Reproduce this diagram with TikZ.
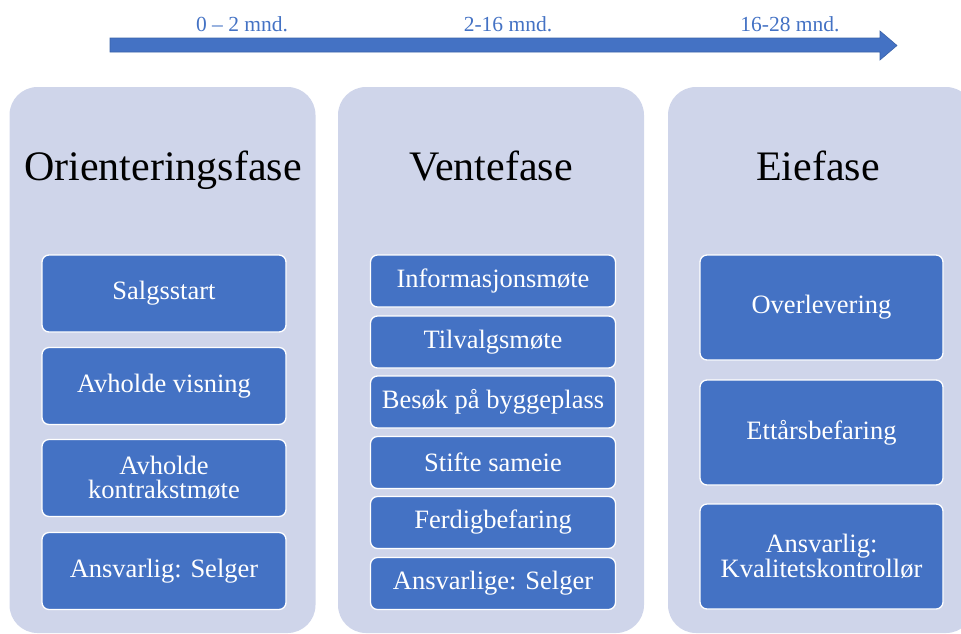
\documentclass[tikz,border=0pt]{standalone}
\usepackage{fontspec}
\setmainfont{Liberation Serif}
\definecolor{phasefill}{HTML}{CFD5EA}
\definecolor{stepblue}{HTML}{4472C4}
\definecolor{arrowedge}{HTML}{3A62A8}
\begin{document}
\begin{tikzpicture}[x=1pt,y=-1pt,
  phasebox/.style={fill=phasefill, rounded corners=28pt, inner sep=0pt,
    minimum width=306pt, minimum height=546pt},
  stepbox/.style={draw=white, line width=1.3pt, fill=stepblue, rounded corners=7pt,
    text=white, font=\fontsize{26.5}{24.5}\selectfont, align=center, inner sep=0pt},
  col1/.style={stepbox, minimum width=244pt, minimum height=77pt},
  col2/.style={stepbox, minimum width=245pt, minimum height=52pt},
  col3/.style={stepbox, minimum width=243pt, minimum height=105pt},
  phasetitle/.style={font=\fontsize{42}{48}\selectfont, anchor=base},
  period/.style={text=stepblue, font=\fontsize{21.5}{24}\selectfont, anchor=base}]
\useasboundingbox (0,0) rectangle (961,633);
\clip (0,0) rectangle (961,633);

% time line
\draw[arrowedge, line width=0.6pt, fill=stepblue]
  (110,38) -- (880,38) -- (880,31) -- (897,45.5) -- (880,60) -- (880,52) -- (110,52) -- cycle;
\node[period] (t1) at (242,31) {0 – 2 mnd.};
\node[period] (t2) at (508,31) {2-16 mnd.};
\node[period] (t3) at (790,31) {16-28 mnd.};

% phase columns
\node[phasebox] (p1) at (162.5,360) {};
\node[phasebox] (p2) at (491,360) {};
\node[phasebox] (p3) at (821,360) {};

\node[phasetitle] (h1) at (163,180) {Orienteringsfase};
\node[phasetitle] (h2) at (491,180) {Ventefase};
\node[phasetitle] (h3) at (818,180) {Eiefase};

% orientation phase
\node[col1] (a1) at (164,293.5) {Salgsstart};
\node[col1] (a2) at (164,386) {Avholde visning};
\node[col1] (a3) at (164,478) {Avholde\\kontrakstmøte};
\node[col1] (a4) at (164,571) {Ansvarlig: Selger};

% waiting phase
\node[col2] (b1) at (493,281) {Informasjonsmøte};
\node[col2] (b2) at (493,342) {Tilvalgsmøte};
\node[col2] (b3) at (493,402) {Besøk på byggeplass};
\node[col2] (b4) at (493,462.5) {Stifte sameie};
\node[col2] (b5) at (493,522.5) {Ferdigbefaring};
\node[col2] (b6) at (493,583.5) {Ansvarlige: Selger};

% ownership phase
\node[col3] (c1) at (821.5,307.5) {Overlevering};
\node[col3] (c2) at (821.5,432.5) {Ettårsbefaring};
\node[col3] (c3) at (821.5,556.5) {Ansvarlig:\\Kvalitetskontrollør};
\end{tikzpicture}
\end{document}
